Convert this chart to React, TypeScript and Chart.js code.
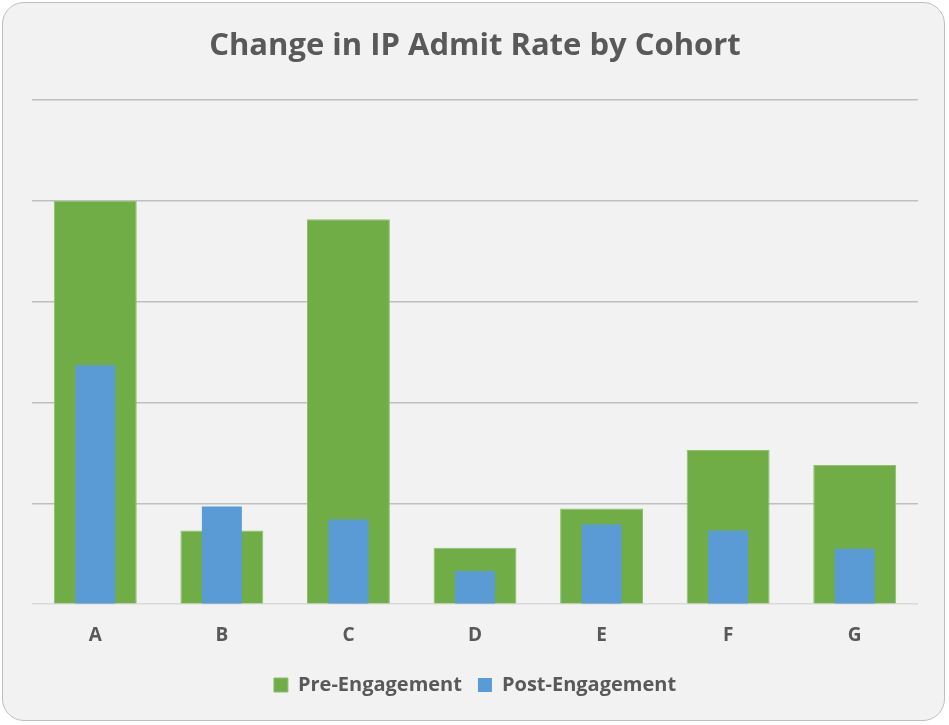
import React, { useEffect, useRef } from "react";
import { Chart, registerables } from "chart.js";

Chart.register(...registerables);

const categories = ["A", "B", "C", "D", "E", "F", "G"];
const preEngagement = [4.0, 0.73, 3.82, 0.56, 0.95, 1.53, 1.38];
const postEngagement = [2.37, 0.97, 0.84, 0.33, 0.79, 0.73, 0.55];

const FONT = "'Open Sans', 'Noto Sans', sans-serif";
const TEXT = "#595959";

export default function App() {
  const ref = useRef<HTMLCanvasElement>(null);
  useEffect(() => {
    document.body.style.margin = "0";
    const chart = new Chart(ref.current!, {
      type: "bar",
      data: {
        labels: categories,
        datasets: [
          {
            label: "Pre-Engagement",
            data: preEngagement,
            backgroundColor: "#70ad47",
            borderColor: "#8cc06a",
            borderWidth: 1,
            grouped: false,
            categoryPercentage: 1,
            barPercentage: 0.655,
            order: 2,
          },
          {
            label: "Post-Engagement",
            data: postEngagement,
            backgroundColor: "#5b9bd5",
            grouped: false,
            categoryPercentage: 1,
            barPercentage: 0.316,
            order: 1,
          },
        ],
      },
      options: {
        responsive: false,
        animation: false,
        layout: { padding: { left: 32, right: 31, top: 0, bottom: 20 } },
        plugins: {
          tooltip: { enabled: false },
          title: {
            display: true,
            text: "Change in IP Admit Rate by Cohort",
            color: TEXT,
            font: { family: FONT, size: 31, weight: "bold" },
            padding: { top: 28, bottom: 35 },
          },
          legend: {
            position: "bottom",
            labels: {
              color: TEXT,
              font: { family: FONT, size: 20, weight: "bold" },
              boxWidth: 14,
              boxHeight: 14,
              padding: 16,
              sort: (a: any, b: any) => a.datasetIndex - b.datasetIndex,
            },
          },
        },
        scales: {
          x: {
            grid: { display: false },
            border: { display: false },
            ticks: {
              color: TEXT,
              font: { family: FONT, size: 19, weight: "bold" },
              padding: 12,
            },
          },
          y: {
            min: 0,
            max: 5,
            ticks: { display: false, stepSize: 1 },
            border: { display: false },
            grid: {
              drawTicks: false,
              lineWidth: 1.5,
              color: (ctx: any) => (ctx.tick && ctx.tick.value === 0 ? "#d9d9d9" : "#bfbfbf"),
            },
          },
        },
      },
    });
    return () => chart.destroy();
  }, []);
  return (
    <div
      style={{
        position: "absolute",
        left: 0,
        top: 0,
        width: 949,
        height: 725,
      }}
    >
      <div
        style={{
          position: "absolute",
          left: 2,
          top: 2,
          width: 941,
          height: 717,
          background: "#f2f2f2",
          border: "1.5px solid #bfbfbf",
          borderRadius: 22,
        }}
      />
      <canvas ref={ref} width={949} height={725} style={{ position: "absolute", left: 0, top: 0 }} />
    </div>
  );
}
